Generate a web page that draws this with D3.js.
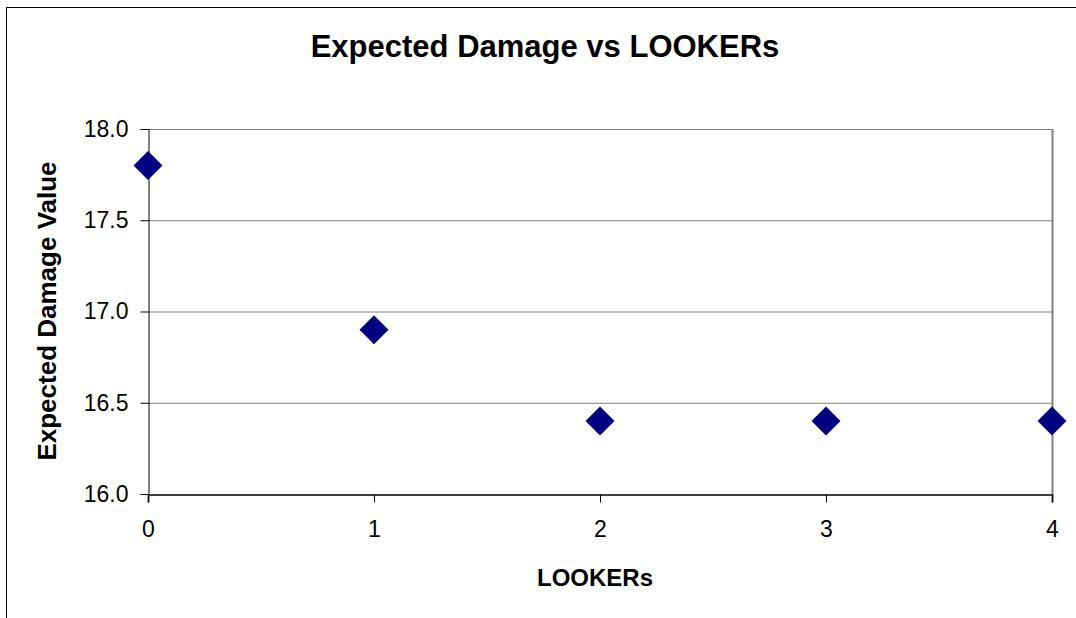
<!DOCTYPE html>
<html><head><meta charset="utf-8">
<script src="https://cdn.jsdelivr.net/npm/d3@7"></script>
<style>body{margin:0;background:#fff;}svg{display:block;font-family:"Liberation Sans",Arial,sans-serif;}</style>
</head><body>
<script>
const lookers = [0, 1, 2, 3, 4];
const damage = [17.8, 16.9, 16.4, 16.4, 16.4];
const yTicks = [16.0, 16.5, 17.0, 17.5, 18.0];
const xTicks = [0, 1, 2, 3, 4];
const title = "Expected Damage vs LOOKERs";
const xTitle = "LOOKERs";
const yTitle = "Expected Damage Value";

const W = 1076, H = 618;
const L = 148, R = 1052, T = 129, B = 494;
const svg = d3.select("body").append("svg").attr("width", W).attr("height", H);

svg.append("rect").attr("x", 6.5).attr("y", 7.5).attr("width", W + 10).attr("height", H + 10)
  .attr("fill", "#fff").attr("stroke", "#000").attr("stroke-width", 1);

const x = d3.scaleLinear().domain([0, 4]).range([L, R]);
const y = d3.scaleLinear().domain([16, 18]).range([B, T]);

// gridlines
svg.append("g").selectAll("line").data(yTicks.filter(d => d > 16)).join("line")
  .attr("x1", L).attr("x2", R).attr("y1", d => y(d) + 0.5).attr("y2", d => y(d) + 0.5)
  .attr("stroke", "#808080").attr("stroke-width", 1);
// right border
svg.append("line").attr("x1", R + 0.5).attr("x2", R + 0.5).attr("y1", T).attr("y2", B)
  .attr("stroke", "#808080").attr("stroke-width", 2);

// y axis
const yAxis = svg.append("g").attr("transform", `translate(${L + 0.5},0)`)
  .call(d3.axisLeft(y).tickValues(yTicks).tickFormat(d3.format(".1f")).tickSize(8).tickPadding(12));
yAxis.select(".domain").attr("stroke", "#000");
yAxis.selectAll(".tick line").attr("stroke", "#000");
yAxis.selectAll("text").attr("font-size", 23).attr("fill", "#000").attr("font-family", "Liberation Sans, Arial, sans-serif");

// x axis
const xAxis = svg.append("g").attr("transform", `translate(0,${B + 0.5})`)
  .call(d3.axisBottom(x).tickValues(xTicks).tickFormat(d3.format("d")).tickSize(8).tickPadding(18));
xAxis.select(".domain").attr("stroke", "#404040").attr("stroke-width", 2);
xAxis.selectAll(".tick line").attr("stroke", "#000");
xAxis.selectAll("text").attr("font-size", 23).attr("fill", "#000").attr("font-family", "Liberation Sans, Arial, sans-serif");

// markers
const s = 14.5;
svg.append("g").selectAll("path").data(lookers).join("path")
  .attr("d", (d, i) => {
    const cx = x(d), cy = y(damage[i]);
    return `M${cx},${cy - s}L${cx + s},${cy}L${cx},${cy + s}L${cx - s},${cy}Z`;
  })
  .attr("fill", "#000080");

svg.append("text").attr("x", 545).attr("y", 57).attr("text-anchor", "middle")
  .attr("font-size", 31).attr("font-weight", "bold").text(title);
svg.append("text").attr("x", 595).attr("y", 586).attr("text-anchor", "middle")
  .attr("font-size", 24).attr("font-weight", "bold").text(xTitle);
svg.append("text").attr("transform", "translate(56,311) rotate(-90)").attr("text-anchor", "middle")
  .attr("font-size", 26).attr("font-weight", "bold").text(yTitle);
</script>
</body></html>
